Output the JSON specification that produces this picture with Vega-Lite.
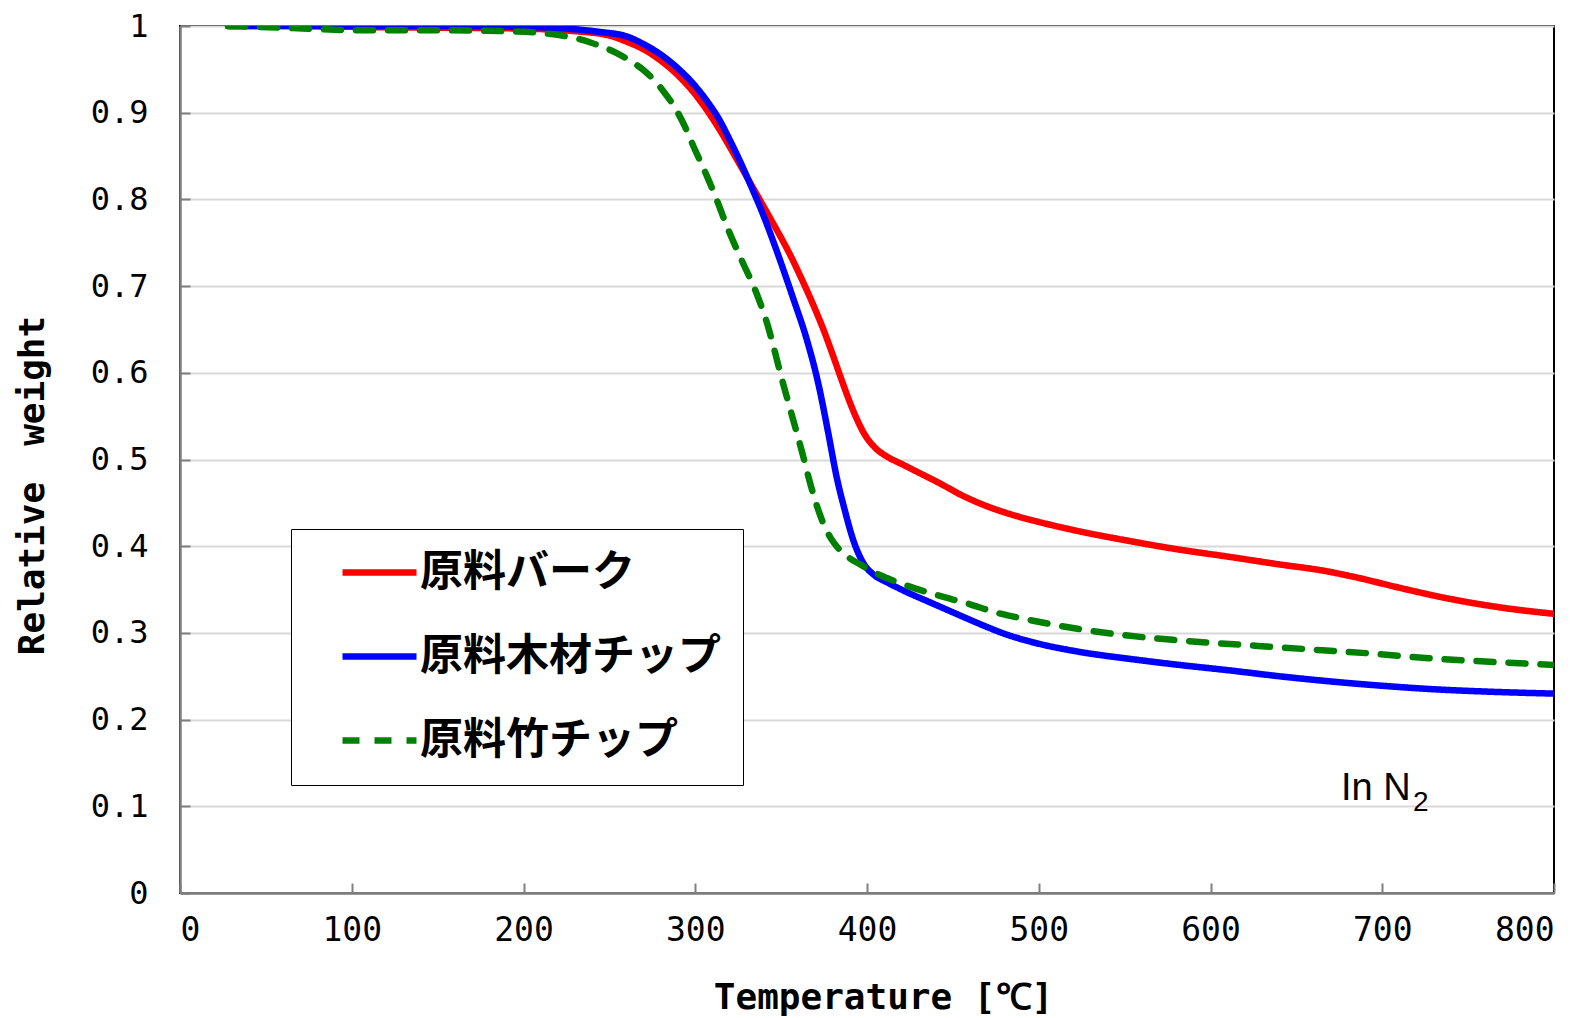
{
  "$schema": "https://vega.github.io/schema/vega-lite/v6.json",
  "width": 1374,
  "height": 867,
  "autosize": {"type": "none"},
  "padding": {"left": 180, "top": 26, "right": 33, "bottom": 125},
  "background": "white",
  "config": {
    "view": {"stroke": "black", "strokeWidth": 2},
    "axis": {
      "domainColor": "#7f7f7f",
      "domainWidth": 2.5,
      "ticks": true,
      "tickColor": "#7f7f7f",
      "tickWidth": 2,
      "tickSize": -10,
      "labelFont": "DejaVu Sans Mono",
      "labelColor": "black",
      "titleFont": "DejaVu Sans Mono",
      "titleFontSize": 36,
      "titleFontWeight": "bold",
      "titleColor": "black",
      "gridColor": "#d9d9d9",
      "gridWidth": 2
    }
  },
  "layer": [
    {
      "data": {
        "values": [
          {"series": "原料バーク", "T": 28, "w": 1.0},
          {"series": "原料バーク", "T": 60, "w": 1.0},
          {"series": "原料バーク", "T": 100, "w": 0.999},
          {"series": "原料バーク", "T": 150, "w": 0.998},
          {"series": "原料バーク", "T": 200, "w": 0.997},
          {"series": "原料バーク", "T": 230, "w": 0.994},
          {"series": "原料バーク", "T": 250, "w": 0.989},
          {"series": "原料バーク", "T": 260, "w": 0.982},
          {"series": "原料バーク", "T": 270, "w": 0.973},
          {"series": "原料バーク", "T": 280, "w": 0.960},
          {"series": "原料バーク", "T": 290, "w": 0.943},
          {"series": "原料バーク", "T": 298, "w": 0.926},
          {"series": "原料バーク", "T": 305, "w": 0.908},
          {"series": "原料バーク", "T": 314, "w": 0.881},
          {"series": "原料バーク", "T": 324, "w": 0.847},
          {"series": "原料バーク", "T": 336, "w": 0.805},
          {"series": "原料バーク", "T": 346, "w": 0.770},
          {"series": "原料バーク", "T": 355, "w": 0.737},
          {"series": "原料バーク", "T": 362, "w": 0.708},
          {"series": "原料バーク", "T": 369, "w": 0.677},
          {"series": "原料バーク", "T": 375, "w": 0.648},
          {"series": "原料バーク", "T": 380, "w": 0.621},
          {"series": "原料バーク", "T": 385, "w": 0.593},
          {"series": "原料バーク", "T": 390, "w": 0.566},
          {"series": "原料バーク", "T": 394, "w": 0.547},
          {"series": "原料バーク", "T": 398, "w": 0.531},
          {"series": "原料バーク", "T": 405, "w": 0.513},
          {"series": "原料バーク", "T": 412, "w": 0.503},
          {"series": "原料バーク", "T": 421, "w": 0.494},
          {"series": "原料バーク", "T": 431, "w": 0.484},
          {"series": "原料バーク", "T": 441, "w": 0.474},
          {"series": "原料バーク", "T": 457, "w": 0.457},
          {"series": "原料バーク", "T": 470, "w": 0.446},
          {"series": "原料バーク", "T": 485, "w": 0.436},
          {"series": "原料バーク", "T": 500, "w": 0.428},
          {"series": "原料バーク", "T": 524, "w": 0.417},
          {"series": "原料バーク", "T": 550, "w": 0.407},
          {"series": "原料バーク", "T": 582, "w": 0.396},
          {"series": "原料バーク", "T": 610, "w": 0.388},
          {"series": "原料バーク", "T": 640, "w": 0.379},
          {"series": "原料バーク", "T": 665, "w": 0.372},
          {"series": "原料バーク", "T": 685, "w": 0.364},
          {"series": "原料バーク", "T": 708, "w": 0.353},
          {"series": "原料バーク", "T": 740, "w": 0.339},
          {"series": "原料バーク", "T": 770, "w": 0.329},
          {"series": "原料バーク", "T": 800, "w": 0.322},
          {"series": "原料木材チップ", "T": 28, "w": 1.0},
          {"series": "原料木材チップ", "T": 60, "w": 1.0},
          {"series": "原料木材チップ", "T": 100, "w": 1.0},
          {"series": "原料木材チップ", "T": 150, "w": 1.0},
          {"series": "原料木材チップ", "T": 200, "w": 0.999},
          {"series": "原料木材チップ", "T": 225, "w": 0.997},
          {"series": "原料木材チップ", "T": 245, "w": 0.993},
          {"series": "原料木材チップ", "T": 260, "w": 0.988},
          {"series": "原料木材チップ", "T": 270, "w": 0.979},
          {"series": "原料木材チップ", "T": 280, "w": 0.967},
          {"series": "原料木材チップ", "T": 290, "w": 0.951},
          {"series": "原料木材チップ", "T": 299, "w": 0.933},
          {"series": "原料木材チップ", "T": 307, "w": 0.913},
          {"series": "原料木材チップ", "T": 314, "w": 0.892},
          {"series": "原料木材チップ", "T": 320, "w": 0.869},
          {"series": "原料木材チップ", "T": 327, "w": 0.840},
          {"series": "原料木材チップ", "T": 333, "w": 0.813},
          {"series": "原料木材チップ", "T": 339, "w": 0.785},
          {"series": "原料木材チップ", "T": 347, "w": 0.743},
          {"series": "原料木材チップ", "T": 357, "w": 0.686},
          {"series": "原料木材チップ", "T": 365, "w": 0.638},
          {"series": "原料木材チップ", "T": 371.6, "w": 0.588},
          {"series": "原料木材チップ", "T": 377.5, "w": 0.530},
          {"series": "原料木材チップ", "T": 382.3, "w": 0.480},
          {"series": "原料木材チップ", "T": 387, "w": 0.442},
          {"series": "原料木材チップ", "T": 392, "w": 0.407},
          {"series": "原料木材チップ", "T": 398, "w": 0.380},
          {"series": "原料木材チップ", "T": 404, "w": 0.367},
          {"series": "原料木材チップ", "T": 412, "w": 0.358},
          {"series": "原料木材チップ", "T": 421, "w": 0.349},
          {"series": "原料木材チップ", "T": 437, "w": 0.335},
          {"series": "原料木材チップ", "T": 452, "w": 0.322},
          {"series": "原料木材チップ", "T": 466, "w": 0.310},
          {"series": "原料木材チップ", "T": 480, "w": 0.299},
          {"series": "原料木材チップ", "T": 495, "w": 0.290},
          {"series": "原料木材チップ", "T": 524, "w": 0.278},
          {"series": "原料木材チップ", "T": 553, "w": 0.270},
          {"series": "原料木材チップ", "T": 582, "w": 0.263},
          {"series": "原料木材チップ", "T": 610, "w": 0.257},
          {"series": "原料木材チップ", "T": 640, "w": 0.250},
          {"series": "原料木材チップ", "T": 670, "w": 0.244},
          {"series": "原料木材チップ", "T": 700, "w": 0.239},
          {"series": "原料木材チップ", "T": 730, "w": 0.235},
          {"series": "原料木材チップ", "T": 765, "w": 0.232},
          {"series": "原料木材チップ", "T": 800, "w": 0.230},
          {"series": "原料竹チップ", "T": 28, "w": 1.0},
          {"series": "原料竹チップ", "T": 60, "w": 0.998},
          {"series": "原料竹チップ", "T": 109, "w": 0.995},
          {"series": "原料竹チップ", "T": 150, "w": 0.995},
          {"series": "原料竹チップ", "T": 190, "w": 0.994},
          {"series": "原料竹チップ", "T": 215, "w": 0.991},
          {"series": "原料竹チップ", "T": 230, "w": 0.986},
          {"series": "原料竹チップ", "T": 239, "w": 0.981},
          {"series": "原料竹チップ", "T": 254, "w": 0.969},
          {"series": "原料竹チップ", "T": 262, "w": 0.960},
          {"series": "原料竹チップ", "T": 270, "w": 0.949},
          {"series": "原料竹チップ", "T": 281, "w": 0.926},
          {"series": "原料竹チップ", "T": 289, "w": 0.903},
          {"series": "原料竹チップ", "T": 294, "w": 0.884},
          {"series": "原料竹チップ", "T": 299, "w": 0.861},
          {"series": "原料竹チップ", "T": 307, "w": 0.826},
          {"series": "原料竹チップ", "T": 313, "w": 0.797},
          {"series": "原料竹チップ", "T": 319, "w": 0.766},
          {"series": "原料竹チップ", "T": 327, "w": 0.730},
          {"series": "原料竹チップ", "T": 336, "w": 0.690},
          {"series": "原料竹チップ", "T": 342, "w": 0.656},
          {"series": "原料竹チップ", "T": 346, "w": 0.627},
          {"series": "原料竹チップ", "T": 350, "w": 0.596},
          {"series": "原料竹チップ", "T": 356, "w": 0.553},
          {"series": "原料竹チップ", "T": 362, "w": 0.510},
          {"series": "原料竹チップ", "T": 368, "w": 0.465},
          {"series": "原料竹チップ", "T": 374, "w": 0.429},
          {"series": "原料竹チップ", "T": 379, "w": 0.409},
          {"series": "原料竹チップ", "T": 384, "w": 0.396},
          {"series": "原料竹チップ", "T": 390, "w": 0.386},
          {"series": "原料竹チップ", "T": 396, "w": 0.379},
          {"series": "原料竹チップ", "T": 402, "w": 0.372},
          {"series": "原料竹チップ", "T": 412, "w": 0.363},
          {"series": "原料竹チップ", "T": 421, "w": 0.356},
          {"series": "原料竹チップ", "T": 440, "w": 0.344},
          {"series": "原料竹チップ", "T": 460, "w": 0.333},
          {"series": "原料竹チップ", "T": 476, "w": 0.323},
          {"series": "原料竹チップ", "T": 492, "w": 0.316},
          {"series": "原料竹チップ", "T": 510, "w": 0.309},
          {"series": "原料竹チップ", "T": 547, "w": 0.298},
          {"series": "原料竹チップ", "T": 578, "w": 0.292},
          {"series": "原料竹チップ", "T": 605, "w": 0.288},
          {"series": "原料竹チップ", "T": 635, "w": 0.284},
          {"series": "原料竹チップ", "T": 665, "w": 0.280},
          {"series": "原料竹チップ", "T": 695, "w": 0.276},
          {"series": "原料竹チップ", "T": 725, "w": 0.271},
          {"series": "原料竹チップ", "T": 760, "w": 0.267},
          {"series": "原料竹チップ", "T": 800, "w": 0.263}
        ]
      },
      "mark": {"type": "line", "strokeWidth": 6.5, "interpolate": "monotone", "strokeCap": "round", "clip": true},
      "encoding": {
        "x": {
          "field": "T", "type": "quantitative",
          "scale": {"domain": [0, 800], "nice": false},
          "axis": {
            "title": "Temperature [℃]",
            "values": [0, 100, 200, 300, 400, 500, 600, 700, 800],
            "grid": false,
            "labelFontSize": 33,
            "labelPadding": 31,
            "titlePadding": 33,
            "titleX": 703
          }
        },
        "y": {
          "field": "w", "type": "quantitative",
          "scale": {"domain": [0, 1], "nice": false},
          "axis": {
            "title": "Relative　weight",
            "values": [0, 0.1, 0.2, 0.3, 0.4, 0.5, 0.6, 0.7, 0.8, 0.9, 1],
            "format": "~g",
            "grid": true,
            "labelFontSize": 32,
            "labelPadding": 42,
            "titleBaseline": "middle",
            "titleX": -148,
            "titleY": 459
          }
        },
        "color": {
          "field": "series", "type": "nominal",
          "scale": {"domain": ["原料バーク", "原料木材チップ", "原料竹チップ"], "range": ["#ff0000", "#0000ff", "#008000"]},
          "legend": {
            "title": null,
            "orient": "none",
            "legendX": 111,
            "legendY": 503,
            "strokeColor": "black",
            "fillColor": "white",
            "padding": 22,
            "symbolType": "stroke",
            "symbolSize": 5476,
            "symbolStrokeWidth": 6.5,
            "symbolOffset": 26,
            "clipHeight": 43,
            "labelFont": "Noto Sans CJK JP",
            "labelFontSize": 43,
            "labelFontWeight": "bold",
            "labelColor": "black",
            "labelOffset": 0,
            "labelLimit": 500,
            "rowPadding": 40
          }
        },
        "strokeDash": {
          "field": "series", "type": "nominal",
          "scale": {"domain": ["原料バーク", "原料木材チップ", "原料竹チップ"], "range": [[1, 0], [1, 0], [17, 15]]},
          "legend": null
        }
      }
    },
    {
      "data": {"values": [{"T": 676, "w": 0.107, "label": "In N", "sub": "2"}]},
      "layer": [
        {
          "mark": {"type": "text", "align": "left", "baseline": "alphabetic", "font": "Liberation Sans", "fontSize": 38, "color": "black"},
          "encoding": {
            "x": {"field": "T", "type": "quantitative"},
            "y": {"field": "w", "type": "quantitative"},
            "text": {"field": "label"}
          }
        },
        {
          "mark": {"type": "text", "align": "left", "baseline": "alphabetic", "font": "Liberation Sans", "fontSize": 28, "color": "black", "dx": 72, "dy": 11},
          "encoding": {
            "x": {"field": "T", "type": "quantitative"},
            "y": {"field": "w", "type": "quantitative"},
            "text": {"field": "sub"}
          }
        }
      ]
    }
  ]
}
